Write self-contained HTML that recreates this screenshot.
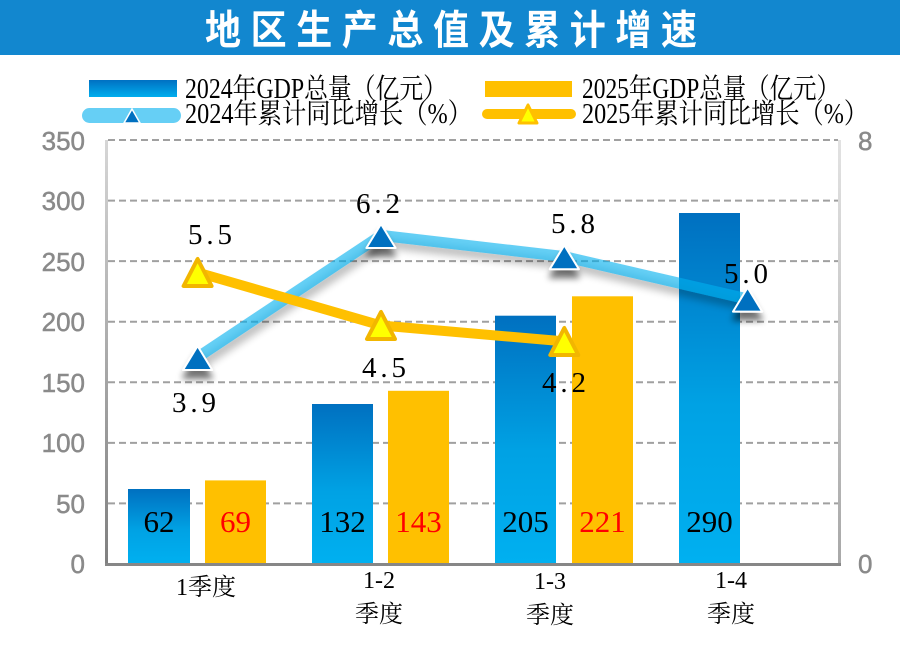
<!DOCTYPE html>
<html>
<head>
<meta charset="utf-8">
<style>
  html, body { margin: 0; padding: 0; background: #ffffff; }
  body { width: 900px; height: 645px; overflow: hidden; }
  svg { display: block; }
  .serif { font-family: "Liberation Serif", "Noto Serif CJK SC", serif; }
  .ax { font-family: "Liberation Sans", sans-serif; font-size: 26px; fill: #8a8a8a; stroke: #8a8a8a; stroke-width: 0.5px; }
</style>
</head>
<body>
<svg width="900" height="645" viewBox="0 0 900 645" xmlns="http://www.w3.org/2000/svg">
  <defs>
    <linearGradient id="barBlue" x1="0" y1="0" x2="0" y2="1">
      <stop offset="0" stop-color="#0070c0"/>
      <stop offset="0.55" stop-color="#00a2e4"/>
      <stop offset="1" stop-color="#00b0f0"/>
    </linearGradient>
    <linearGradient id="legBlue" x1="0" y1="0" x2="0" y2="1">
      <stop offset="0" stop-color="#0070c2"/>
      <stop offset="1" stop-color="#00aeee"/>
    </linearGradient>
    <linearGradient id="leftAxis" x1="0" y1="0" x2="0" y2="1">
      <stop offset="0" stop-color="#d6d6d6"/>
      <stop offset="1" stop-color="#7f7f7f"/>
    </linearGradient>
    <linearGradient id="rightAxis" x1="0" y1="0" x2="0" y2="1">
      <stop offset="0" stop-color="#e2e2e2"/>
      <stop offset="1" stop-color="#a8a8a8"/>
    </linearGradient>
    <filter id="shadow" x="-20%" y="-40%" width="140%" height="190%">
      <feGaussianBlur in="SourceAlpha" stdDeviation="4"/>
      <feOffset dx="2" dy="7" result="b"/>
      <feComponentTransfer><feFuncA type="linear" slope="0.42"/></feComponentTransfer>
      <feMerge><feMergeNode/><feMergeNode in="SourceGraphic"/></feMerge>
    </filter>
    <filter id="mshadow" x="-60%" y="-60%" width="220%" height="240%">
      <feGaussianBlur in="SourceAlpha" stdDeviation="3.5"/>
      <feOffset dx="0" dy="8" result="b"/>
      <feComponentTransfer><feFuncA type="linear" slope="0.55"/></feComponentTransfer>
      <feMerge><feMergeNode/><feMergeNode in="SourceGraphic"/></feMerge>
    </filter>
  </defs>

  <!-- Title bar -->
  <rect x="0" y="0" width="900" height="55" fill="#1287cf"/>
  <g transform="translate(0,44) scale(1,1.12)">
    <text x="205" y="0" font-family="'Noto Sans CJK SC', 'WenQuanYi Zen Hei', sans-serif" font-weight="bold" font-size="36" fill="#ffffff" textLength="492" lengthAdjust="spacing">地区生产总值及累计增速</text>
  </g>

  <!-- Legend -->
  <rect x="89" y="80" width="88" height="17" fill="url(#legBlue)"/>
  <text class="serif" x="185" y="98" font-size="28" fill="#000" textLength="262" lengthAdjust="spacingAndGlyphs">2024年GDP总量（亿元）</text>
  <rect x="485" y="81" width="87" height="16" fill="#ffc000"/>
  <text class="serif" x="582" y="98" font-size="28" fill="#000" textLength="258" lengthAdjust="spacingAndGlyphs">2025年GDP总量（亿元）</text>

  <rect x="82" y="108" width="99" height="15" rx="7.5" fill="#66cff5"/>
  <polygon points="132,109 124,123 140,123" fill="#0070c0" stroke="#ffffff" stroke-width="1.5"/>
  <text class="serif" x="185" y="123" font-size="28" fill="#000" textLength="287" lengthAdjust="spacingAndGlyphs">2024年累计同比增长（%）</text>

  <rect x="482" y="109" width="94" height="10" rx="5" fill="#ffc000"/>
  <polygon points="528,105 519,123 537,123" fill="#ffff00" stroke="#ffc000" stroke-width="3" stroke-linejoin="round"/>
  <text class="serif" x="582" y="123" font-size="28" fill="#000" textLength="286" lengthAdjust="spacingAndGlyphs">2025年累计同比增长（%）</text>

  <!-- Grid lines -->
  <g stroke="#a0a0a0" stroke-width="2" stroke-dasharray="7 4">
    <line x1="108" y1="140" x2="838" y2="140"/>
    <line x1="108" y1="200.6" x2="838" y2="200.6"/>
    <line x1="108" y1="261.1" x2="838" y2="261.1"/>
    <line x1="108" y1="321.7" x2="838" y2="321.7"/>
    <line x1="108" y1="382.3" x2="838" y2="382.3"/>
    <line x1="108" y1="442.9" x2="838" y2="442.9"/>
    <line x1="108" y1="503.4" x2="838" y2="503.4"/>
  </g>

  <!-- Left axis labels -->
  <g class="ax" text-anchor="end">
    <text x="85" y="150">350</text>
    <text x="85" y="210">300</text>
    <text x="85" y="271">250</text>
    <text x="85" y="331">200</text>
    <text x="85" y="392">150</text>
    <text x="85" y="452">100</text>
    <text x="85" y="513">50</text>
    <text x="85" y="573">0</text>
  </g>
  <!-- Right axis labels -->
  <g class="ax">
    <text x="858" y="150">8</text>
    <text x="858" y="573">0</text>
  </g>

  <!-- Bars -->
  <rect x="128" y="489" width="62" height="75" fill="url(#barBlue)"/>
  <rect x="205" y="480.4" width="61" height="83.6" fill="#ffc000"/>
  <rect x="312" y="404" width="61" height="160" fill="url(#barBlue)"/>
  <rect x="388" y="390.8" width="61" height="173.2" fill="#ffc000"/>
  <rect x="495" y="315.7" width="61" height="248.3" fill="url(#barBlue)"/>
  <rect x="572" y="296.3" width="61" height="267.7" fill="#ffc000"/>
  <rect x="679" y="213" width="61" height="351" fill="url(#barBlue)"/>

  <!-- Axes -->
  <rect x="105" y="140" width="3" height="426" fill="url(#leftAxis)"/>
  <rect x="838" y="140" width="3" height="426" fill="url(#rightAxis)"/>
  <rect x="105" y="563" width="736" height="3" fill="#878787"/>

  <!-- Bar value labels -->
  <g class="serif" font-size="31" text-anchor="middle">
    <text x="159" y="532" fill="#000">62</text>
    <text x="235.5" y="532" fill="#ff0000">69</text>
    <text x="342.5" y="532" fill="#000">132</text>
    <text x="418.5" y="532" fill="#ff0000">143</text>
    <text x="525.5" y="532" fill="#000">205</text>
    <text x="602.5" y="532" fill="#ff0000">221</text>
    <text x="709.5" y="532" fill="#000">290</text>
  </g>

  <!-- 2024 line -->
  <g filter="url(#shadow)">
    <polyline points="197.6,357.3 381,235.4 564.3,256.6 747.6,299" fill="none" stroke="#00b0f0" stroke-opacity="0.6" stroke-width="11" stroke-linejoin="round"/>
  </g>
  <!-- 2025 line -->
  <polyline points="197.6,272.5 381,325.5 564.3,341.4" fill="none" stroke="#ffc000" stroke-width="10" stroke-linejoin="round"/>

  <!-- 2024 markers -->
  <g filter="url(#mshadow)" fill="#0070c0" stroke="#ffffff" stroke-width="2" stroke-linejoin="round">
    <polygon points="197.6,346 183,370 212.2,370"/>
    <polygon points="381,224 366.4,248 395.6,248"/>
    <polygon points="564.3,245.2 549.7,269.2 578.9,269.2"/>
    <polygon points="747.6,287.6 733,311.6 762.2,311.6"/>
  </g>
  <!-- 2025 markers -->
  <g fill="#ffff00" stroke="#f2b600" stroke-width="4" stroke-linejoin="round">
    <polygon points="197.6,259 183.6,286 211.6,286"/>
    <polygon points="381,312 367,339 395,339"/>
    <polygon points="564.3,328 550.3,355 578.3,355"/>
  </g>

  <!-- Line value labels -->
  <g class="serif" font-size="29" fill="#000">
    <text x="188" y="244" textLength="44" lengthAdjust="spacing">5.5</text>
    <text x="356" y="213" textLength="44" lengthAdjust="spacing">6.2</text>
    <text x="172" y="412" textLength="44" lengthAdjust="spacing">3.9</text>
    <text x="362" y="377" textLength="44" lengthAdjust="spacing">4.5</text>
    <text x="551" y="233" textLength="44" lengthAdjust="spacing">5.8</text>
    <text x="724" y="283" textLength="44" lengthAdjust="spacing">5.0</text>
    <text x="542" y="392" textLength="44" lengthAdjust="spacing">4.2</text>
  </g>

  <!-- Category labels -->
  <g class="serif" font-size="24" fill="#000" text-anchor="middle">
    <text x="206" y="595">1季度</text>
    <text x="379" y="588">1-2</text>
    <text x="379" y="622">季度</text>
    <text x="550" y="589">1-3</text>
    <text x="550" y="623">季度</text>
    <text x="731" y="588">1-4</text>
    <text x="731" y="622">季度</text>
  </g>
</svg>
</body>
</html>
